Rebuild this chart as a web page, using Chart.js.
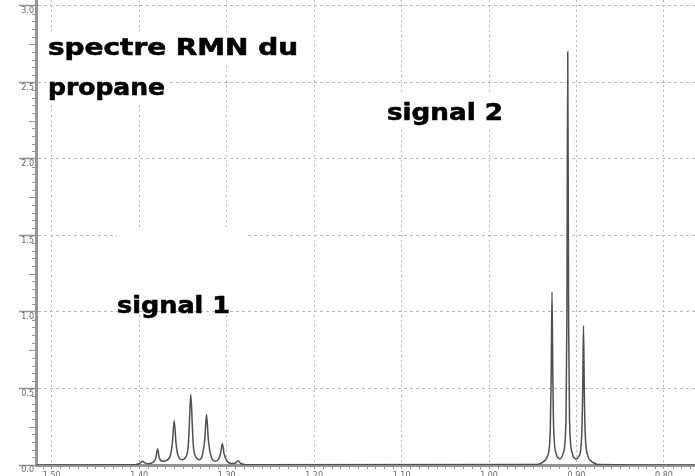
<!DOCTYPE html>
<html lang="fr">
<head>
<meta charset="utf-8">
<title>spectre RMN du propane</title>
<script src="https://cdn.jsdelivr.net/npm/chart.js@4.4.1/dist/chart.umd.min.js"></script>
<style>
  html, body { margin: 0; padding: 0; background: #fff; }
  #nmr { display: block; }
</style>
</head>
<body>
<canvas id="nmr" width="695" height="476"></canvas>
<script>
// chemical shift (ppm) and intensity, left to right
const shifts = [
  1.518, 1.405, 1.400, 1.398, 1.396, 1.394, 1.390,
  1.385, 1.381, 1.379, 1.377, 1.373,
  1.369, 1.364, 1.362, 1.360, 1.358, 1.356, 1.351,
  1.347, 1.344, 1.343, 1.341, 1.339, 1.338, 1.335, 1.331,
  1.328, 1.325, 1.323, 1.321, 1.318, 1.313,
  1.309, 1.307, 1.305, 1.303, 1.300, 1.295,
  1.290, 1.287, 1.284, 1.278,
  0.946, 0.941, 0.937, 0.933, 0.930, 0.929, 0.928, 0.927, 0.926, 0.923, 0.919,
  0.915, 0.912, 0.911, 0.910, 0.909, 0.908, 0.905, 0.901,
  0.897, 0.894, 0.893, 0.892, 0.891, 0.890, 0.887, 0.883, 0.879, 0.875, 0.7645,
];
const intensities = [
  0, 0.002, 0.008, 0.018, 0.024, 0.015, 0.008,
  0.015, 0.045, 0.105, 0.045, 0.025,
  0.03, 0.07, 0.15, 0.29, 0.15, 0.07, 0.035,
  0.05, 0.12, 0.22, 0.46, 0.22, 0.12, 0.05, 0.035,
  0.06, 0.17, 0.33, 0.17, 0.06, 0.025,
  0.04, 0.075, 0.14, 0.075, 0.03, 0.01,
  0.012, 0.028, 0.01, 0.002,
  0.003, 0.01, 0.025, 0.06, 0.22, 0.55, 1.13, 0.55, 0.22, 0.07, 0.04,
  0.08, 0.3, 0.95, 2.70, 0.95, 0.3, 0.08, 0.04,
  0.06, 0.2, 0.45, 0.91, 0.45, 0.2, 0.06, 0.025, 0.01, 0.003, 0,
];

const xTicks = [1.5, 1.4, 1.3, 1.2, 1.1, 1.0, 0.9, 0.8];
const yTicks = [0, 0.5, 1.0, 1.5, 2.0, 2.5, 3.0];

const X_MIN = 0.7645;
const X_MAX = 1.518;
const Y_MAX = 3.039;

const AXIS_COLOR = "#949494";
const GRID_COLOR = "#b8b8b8";
const LABEL_FONT = '"DejaVu Sans", sans-serif';

// text boxes drawn on top of the grid (white background, like the original)
const notes = [
  { text: "spectre RMN du", x: 48, y: 55, w: 250, box: [46, 33, 256, 31] },
  { text: "propane", x: 48, y: 95, w: 117, box: [46, 64, 122, 40] },
  { text: "signal 2", x: 387, y: 120, w: 116, box: [382, 93, 126, 37] },
  { text: "signal 1", x: 117, y: 313, w: 113, box: [117, 229, 130, 82] },
];

const notesPlugin = {
  id: "notes",
  afterDatasetsDraw(chart) {
    const ctx = chart.ctx;
    ctx.save();
    for (const n of notes) {
      ctx.fillStyle = "#fff";
      ctx.fillRect(n.box[0], n.box[1], n.box[2], n.box[3]);
    }
    ctx.fillStyle = "#000";
    ctx.strokeStyle = "#000";
    ctx.lineWidth = 0.6;
    ctx.textBaseline = "alphabetic";
    ctx.font = `bold 23px ${LABEL_FONT}`;
    for (const n of notes) {
      const m = ctx.measureText(n.text).width;
      ctx.save();
      ctx.translate(n.x, n.y);
      ctx.scale(n.w / m, 1);
      ctx.fillText(n.text, 0, 0);
      ctx.strokeText(n.text, 0, 0);
      ctx.restore();
    }
    ctx.restore();
  },
};

// small minor tick marks between labelled ticks
const minorTicksPlugin = {
  id: "minorTicks",
  afterDraw(chart) {
    const { ctx, chartArea } = chart;
    const xs = chart.scales.x;
    const ys = chart.scales.y;
    ctx.save();
    ctx.strokeStyle = AXIS_COLOR;
    ctx.lineWidth = 1;
    ctx.beginPath();
    for (let i = 1; i < 61; i++) {
      if (i % 10 === 0) continue;
      const py = Math.round(ys.getPixelForValue(i * 0.05)) + 0.5;
      const len = i % 5 === 0 ? 6 : 3;
      ctx.moveTo(chartArea.left - 1 - len, py);
      ctx.lineTo(chartArea.left - 1, py);
    }
    for (let i = 77; i <= 151; i++) {
      if (i % 10 === 0) continue;
      const px = Math.round(xs.getPixelForValue(i / 100)) + 0.5;
      ctx.moveTo(px, chartArea.bottom + 1);
      ctx.lineTo(px, chartArea.bottom + 4);
    }
    ctx.stroke();
    ctx.restore();
  },
};

function buildChart() {
  const canvas = document.getElementById("nmr");
  const points = shifts.map((s, i) => ({ x: s, y: intensities[i] }));

  return new Chart(canvas, {
    type: "line",
    data: {
      datasets: [
        {
          label: "propane",
          data: points,
          borderColor: "#505050",
          borderWidth: 1.5,
          pointRadius: 0,
          cubicInterpolationMode: "monotone",
          fill: false,
        },
      ],
    },
    options: {
      responsive: false,
      animation: false,
      devicePixelRatio: 1,
      layout: { padding: 0 },
      plugins: {
        legend: { display: false },
        tooltip: { enabled: false },
      },
      scales: {
        x: {
          type: "linear",
          reverse: true,
          min: X_MIN,
          max: X_MAX,
          afterBuildTicks(scale) {
            scale.ticks = xTicks.map((v) => ({ value: v }));
          },
          afterFit(scale) {
            scale.height = 11;
            scale.paddingLeft = 0;
            scale.paddingRight = 0;
          },
          grid: {
            color: GRID_COLOR,
            lineWidth: 1,
            tickLength: 4,
            tickColor: AXIS_COLOR,
            tickWidth: 1,
          },
          border: { display: true, color: AXIS_COLOR, width: 3, dash: [2, 3] },
          ticks: {
            autoSkip: false,
            maxRotation: 0,
            padding: 2,
            color: "#666",
            font: { family: LABEL_FONT, size: 8 },
            callback: (v) => Number(v).toFixed(2),
          },
        },
        y: {
          type: "linear",
          min: 0,
          max: Y_MAX,
          afterBuildTicks(scale) {
            scale.ticks = yTicks.map((v) => ({ value: v }));
          },
          afterFit(scale) {
            scale.width = 36;
            scale.paddingTop = 0;
            scale.paddingBottom = 0;
          },
          grid: {
            color: GRID_COLOR,
            lineWidth: 1,
            tickLength: 17,
            tickColor: AXIS_COLOR,
            tickWidth: 1.5,
          },
          border: { display: true, color: AXIS_COLOR, width: 3, dash: [3, 3] },
          ticks: {
            autoSkip: false,
            padding: -15,
            labelOffset: 5,
            color: "#666",
            font: { family: LABEL_FONT, size: 8 },
            callback: (v) => Number(v).toFixed(1),
          },
        },
      },
    },
    plugins: [minorTicksPlugin, notesPlugin],
  });
}

document.addEventListener("DOMContentLoaded", buildChart);
</script>
</body>
</html>
